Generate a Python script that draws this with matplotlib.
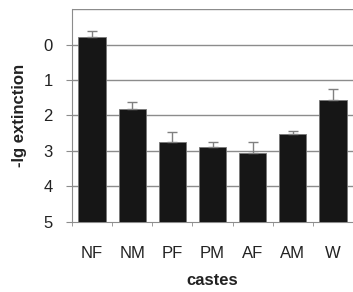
import matplotlib.pyplot as plt
import numpy as np

plt.rcParams['font.family'] = ['Liberation Sans', 'DejaVu Sans']

castes = ["NF", "NM", "PF", "PM", "AF", "AM", "W"]
values = [-0.2, 1.83, 2.75, 2.9, 3.05, 2.53, 1.57]
errors = [0.17, 0.22, 0.28, 0.15, 0.31, 0.08, 0.33]

fig = plt.figure(figsize=(3.53, 2.92), dpi=100)
ax = fig.add_axes([0.204, 0.240, 0.796, 0.729])

x = np.arange(len(castes))
vals = np.array(values)
heights = vals - 5
ax.bar(x, heights, bottom=5, width=0.68, color="#161616", edgecolor="#777777",
       linewidth=0.6, zorder=3)
# error bars point upwards only (towards smaller values, axis is inverted)
ax.errorbar(x, vals, yerr=[errors, np.zeros(len(errors))], fmt="none",
            ecolor="#808080", elinewidth=1.0, capsize=3.5, capthick=1.0, zorder=4)

ax.set_ylim(5, -1)
ax.set_xlim(-0.5, len(castes) - 0.5)
ax.set_yticks([0, 1, 2, 3, 4, 5])
for g in [-1, 0, 1, 2, 3, 4]:
    ax.axhline(g, color="#8c8c8c", linewidth=1.0, zorder=1)

ax.set_xticks(x)
ax.set_xticklabels(castes, fontsize=12, color="#222222")
ax.set_xticks(np.arange(-0.5, len(castes) + 0.5, 1), minor=True)
ax.tick_params(axis="x", which="major", length=0, pad=17)
ax.tick_params(axis="x", which="minor", length=3, color="#8c8c8c", direction="out")
ax.tick_params(axis="y", length=4, color="#8c8c8c", labelsize=12,
               labelcolor="#222222", pad=10)

for s in ["top", "right"]:
    ax.spines[s].set_visible(False)
ax.spines["left"].set_color("#8c8c8c")
ax.spines["bottom"].set_color("#8c8c8c")

ax.set_xlabel("castes", fontsize=12, fontweight="bold", color="#222222", labelpad=9)
ax.set_ylabel("-lg extinction", fontsize=12, fontweight="bold", color="#222222", labelpad=12)

fig.savefig("out.png", dpi=100)
